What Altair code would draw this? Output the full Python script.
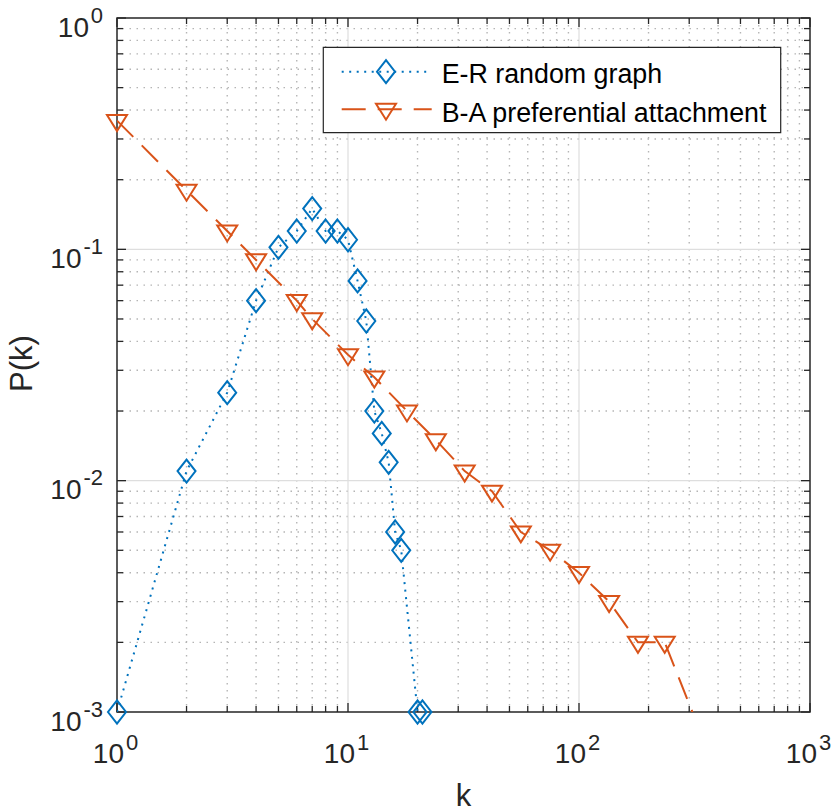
import altair as alt
import pandas as pd

# ---------------- data ----------------
er_k = [1, 2, 3, 4, 5, 6, 7, 8, 9, 10, 11, 12, 13, 14, 15, 16, 17, 20, 21]
er_p = [0.001, 0.011, 0.024, 0.06, 0.102, 0.12, 0.15, 0.12, 0.12, 0.11,
        0.073, 0.049, 0.02, 0.016, 0.012, 0.006, 0.005, 0.001, 0.001]

ba_k = [1, 2, 3, 4, 6, 7, 10, 13, 18, 24, 32, 42, 56, 75, 100, 135, 180, 235, 316]
ba_p = [0.36, 0.18, 0.12, 0.09, 0.06, 0.05, 0.035, 0.028, 0.02, 0.015,
        0.011, 0.009, 0.006, 0.005, 0.004, 0.003, 0.002, 0.002, 0.00095]

series_names = ["E-R random graph", "B-A preferential attachment"]

x_major = [1, 10, 100, 1000]
x_exp = ["0", "1", "2", "3"]
y_major = [0.001, 0.01, 0.1, 1]
y_exp = ["-3", "-2", "-1", "0"]
x_minor = [m * 10 ** d for d in range(3) for m in range(2, 10)]
y_minor = [m * 10.0 ** d for d in (-3, -2, -1) for m in range(2, 10)]

# ---------------- style ----------------
W, H = 693, 694
BLUE = "#0072BD"
ORANGE = "#D95319"
AX = "#262626"
FONT = "Liberation Sans"
DIAMOND = "M0,-1.28L1,0L0,1.28L-1,0Z"
TRI_DOWN = "M-1,-0.56L1,-0.56L0,1.04Z"

xs = alt.Scale(type="log", domain=[1, 1000], nice=False)
ys = alt.Scale(type="log", domain=[0.001, 1], nice=False)

er_df = pd.DataFrame({"k": er_k, "p": er_p})
ba_df = pd.DataFrame({"k": ba_k, "p": ba_p})
one = pd.DataFrame({"a": [0]})
xmin_df = pd.DataFrame({"v": x_minor})
ymin_df = pd.DataFrame({"v": y_minor})
xmaj_df = pd.DataFrame({"v": x_major, "e": x_exp})
ymaj_df = pd.DataFrame({"v": y_major, "e": y_exp})

X = lambda f: alt.X(f, scale=xs, axis=None)
Y = lambda f: alt.Y(f, scale=ys, axis=None)

# grids
grid_minor_x = alt.Chart(xmin_df).mark_rule(color="#b5b5b5", strokeWidth=1.4, strokeDash=[1.5, 5.5]).encode(x=X("v:Q"))
grid_minor_y = alt.Chart(ymin_df).mark_rule(color="#b5b5b5", strokeWidth=1.4, strokeDash=[1.5, 5.5]).encode(y=Y("v:Q"))
grid_major_x = alt.Chart(xmaj_df).transform_filter("datum.v > 1 && datum.v < 1000").mark_rule(
    color="#dedede", strokeWidth=1.2).encode(x=X("v:Q"))
grid_major_y = alt.Chart(ymaj_df).transform_filter("datum.v > 0.001 && datum.v < 1").mark_rule(
    color="#dedede", strokeWidth=1.2).encode(y=Y("v:Q"))

# frame
frame = alt.Chart(one).mark_rect(filled=False, color=AX, strokeWidth=1.5).encode(
    x=alt.value(0), x2=alt.value(W), y=alt.value(0), y2=alt.value(H))

# ticks
MAJ, MIN = 9, 6
def xticks(df, L):
    b = alt.Chart(df).mark_rule(color=AX, strokeWidth=1.3).encode(x=X("v:Q"), y=alt.value(H), y2=alt.value(H - L))
    t = alt.Chart(df).mark_rule(color=AX, strokeWidth=1.3).encode(x=X("v:Q"), y=alt.value(0), y2=alt.value(L))
    return [b, t]
def yticks(df, L):
    l = alt.Chart(df).mark_rule(color=AX, strokeWidth=1.3).encode(y=Y("v:Q"), x=alt.value(0), x2=alt.value(L))
    r = alt.Chart(df).mark_rule(color=AX, strokeWidth=1.3).encode(y=Y("v:Q"), x=alt.value(W), x2=alt.value(W - L))
    return [l, r]
ticks = xticks(xmaj_df, MAJ) + xticks(xmin_df, MIN) + yticks(ymaj_df, MAJ) + yticks(ymin_df, MIN)

# series
er_line = alt.Chart(er_df).mark_line(color=BLUE, strokeWidth=2, strokeDash=[2, 5.5], clip=True).encode(
    x=X("k:Q"), y=Y("p:Q"))
ba_line = alt.Chart(ba_df).mark_line(color=ORANGE, strokeWidth=2, strokeDash=[23, 12], clip=True).encode(
    x=X("k:Q"), y=Y("p:Q"))
er_pts = alt.Chart(er_df).mark_point(shape=DIAMOND, size=324, filled=False, color=BLUE, strokeWidth=2,
                                     opacity=1).encode(x=X("k:Q"), y=Y("p:Q"))
ba_pts = alt.Chart(ba_df).transform_filter("datum.p >= 0.001").mark_point(
    shape=TRI_DOWN, size=400, filled=False, color=ORANGE, strokeWidth=2, opacity=1).encode(x=X("k:Q"), y=Y("p:Q"))

# legend
leg_box = alt.Chart(one).mark_rect(fill="white", stroke=AX, strokeWidth=1.2).encode(
    x=alt.value(206.3), x2=alt.value(663.7), y=alt.value(29.3), y2=alt.value(114.7))
leg_er_line = alt.Chart(one).mark_rule(color=BLUE, strokeWidth=2, strokeDash=[2, 5.5]).encode(
    x=alt.value(224.7), x2=alt.value(310), y=alt.value(53.7))
leg_er_pt = alt.Chart(one).mark_point(shape=DIAMOND, size=324, filled=False, color=BLUE, strokeWidth=2,
                                      opacity=1).encode(x=alt.value(269), y=alt.value(53.7))
leg_ba_line = alt.Chart(one).mark_rule(color=ORANGE, strokeWidth=2, strokeDash=[24, 12]).encode(
    x=alt.value(224.7), x2=alt.value(314.7), y=alt.value(91.3))
leg_ba_pt = alt.Chart(one).mark_point(shape=TRI_DOWN, size=400, filled=False, color=ORANGE, strokeWidth=2,
                                      opacity=1).encode(x=alt.value(269), y=alt.value(91.3))
leg_t1 = alt.Chart(one).mark_text(align="left", baseline="alphabetic", font=FONT, fontSize=26.8, color="black").encode(
    x=alt.value(324.7), y=alt.value(65.3), text=alt.value(series_names[0]))
leg_t2 = alt.Chart(one).mark_text(align="left", baseline="alphabetic", font=FONT, fontSize=26.8, color="black").encode(
    x=alt.value(324.7), y=alt.value(103.7), text=alt.value(series_names[1]))

# tick labels
xl_base = alt.Chart(xmaj_df).mark_text(text="10", align="right", baseline="alphabetic", dx=7,
                                       font=FONT, fontSize=28, color=AX).encode(x=X("v:Q"), y=alt.value(H + 51))
xl_exp = alt.Chart(xmaj_df).mark_text(align="left", baseline="alphabetic", dx=9,
                                      font=FONT, fontSize=22, color=AX).encode(x=X("v:Q"), y=alt.value(H + 38), text="e:N")
yl_exp = alt.Chart(ymaj_df).mark_text(align="right", baseline="alphabetic", dy=4.5,
                                      font=FONT, fontSize=22, color=AX).encode(y=Y("v:Q"), x=alt.value(-14), text="e:N")
yl_base1 = alt.Chart(ymaj_df).transform_filter("length(datum.e) == 1").mark_text(
    text="10", align="right", baseline="alphabetic", dy=18.5, font=FONT, fontSize=28, color=AX).encode(
    y=Y("v:Q"), x=alt.value(-28))
yl_base2 = alt.Chart(ymaj_df).transform_filter("length(datum.e) > 1").mark_text(
    text="10", align="right", baseline="alphabetic", dy=18.5, font=FONT, fontSize=28, color=AX).encode(
    y=Y("v:Q"), x=alt.value(-35.5))

# axis titles
x_title = alt.Chart(one).mark_text(align="center", baseline="alphabetic", font=FONT, fontSize=31, color=AX).encode(
    x=alt.value(W / 2), y=alt.value(788), text=alt.value("k"))
y_title = alt.Chart(one).mark_text(align="center", baseline="alphabetic", angle=270, font=FONT, fontSize=31,
                                   color=AX).encode(x=alt.value(-85), y=alt.value(345.5), text=alt.value("P(k)"))

layers = [grid_minor_x, grid_minor_y, grid_major_x, grid_major_y, frame] + ticks + [
    er_line, ba_line, er_pts, ba_pts,
    leg_box, leg_er_line, leg_ba_line, leg_er_pt, leg_ba_pt, leg_t1, leg_t2,
    xl_base, xl_exp, yl_exp, yl_base1, yl_base2, x_title, y_title]

chart = alt.layer(*layers).properties(
    width=W, height=H,
    autosize=alt.AutoSizeParams(type="none"),
    padding={"left": 117, "top": 18, "right": 23, "bottom": 100},
    background="white",
).configure_view(strokeWidth=0)

chart.save("out.html", embed_options={"renderer": "svg", "actions": False})
